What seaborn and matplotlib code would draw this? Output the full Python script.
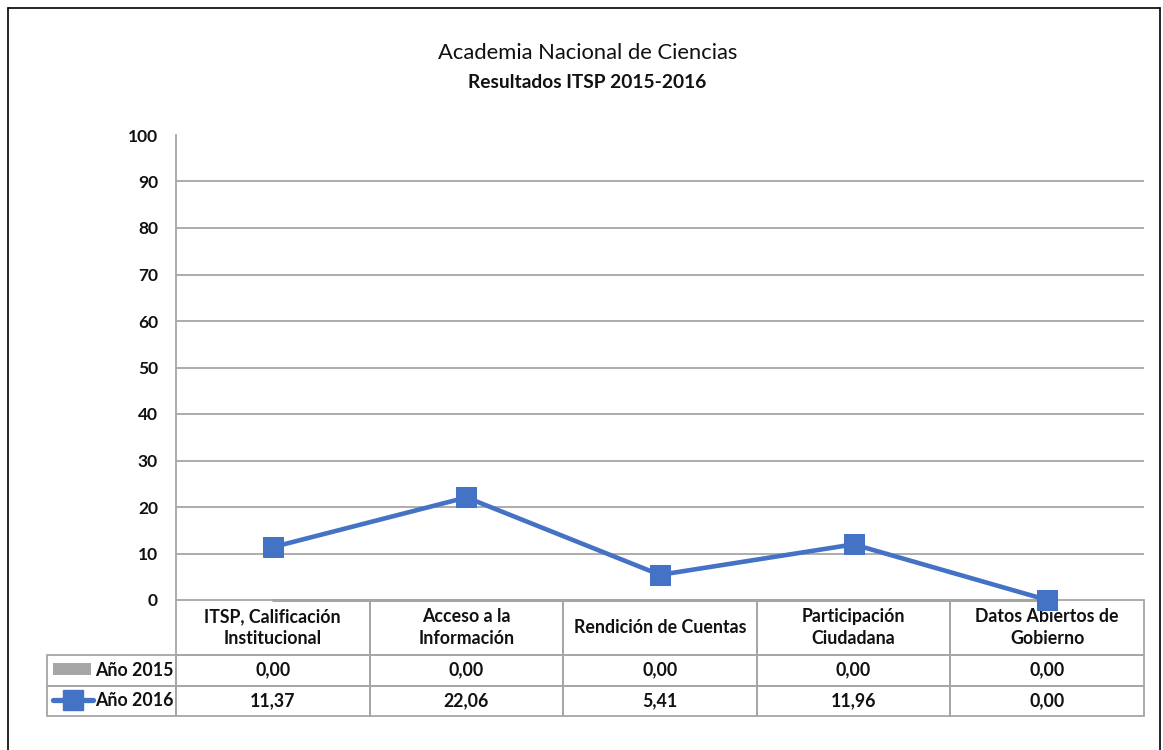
import matplotlib
matplotlib.use("Agg")
import matplotlib.pyplot as plt
import seaborn as sns
import pandas as pd
from matplotlib.lines import Line2D

categories = ["ITSP, Calificación\nInstitucional", "Acceso a la\nInformación",
              "Rendición de Cuentas", "Participación\nCiudadana", "Datos Abiertos de\nGobierno"]
series_names = ["Año 2015", "Año 2016"]
values_2015 = [0.00, 0.00, 0.00, 0.00, 0.00]
values_2016 = [11.37, 22.06, 5.41, 11.96, 0.00]
yticks = [0, 10, 20, 30, 40, 50, 60, 70, 80, 90, 100]
title = "Academia Nacional de Ciencias"
subtitle = "Resultados ITSP 2015-2016"

sns.set_theme(style="white")
plt.rcParams["font.family"] = ["Lato", "DejaVu Sans"]

W, H = 1163, 750
fig = plt.figure(figsize=(W / 100, H / 100), dpi=100)

def fx(px):
    return px / W

def fy(py):
    return 1 - py / H

ax_l, ax_r, ax_t, ax_b = 176, 1144, 135, 600
ax = fig.add_axes([fx(ax_l), fy(ax_b), fx(ax_r - ax_l), (ax_b - ax_t) / H])

BLUE = "#4472C4"
GRAY = "#A5A5A5"
GRID = "#A6A6A6"
TXT = "#111111"

df = pd.DataFrame({
    "x": list(range(len(categories))) * 2,
    "value": values_2015 + values_2016,
    "series": [series_names[0]] * len(categories) + [series_names[1]] * len(categories),
})

sns.lineplot(data=df[df.series == series_names[0]], x="x", y="value", ax=ax,
             color=GRAY, linewidth=2.2, legend=False, clip_on=False, zorder=1)
sns.lineplot(data=df[df.series == series_names[1]], x="x", y="value", ax=ax,
             color=BLUE, linewidth=3.3, marker="s", markersize=14,
             markeredgecolor=BLUE, legend=False, clip_on=False, zorder=5)

ax.set_xlim(-0.5, len(categories) - 0.5)
ax.set_ylim(0, 100)
ax.set_yticks(yticks)
ax.set_yticklabels([str(t) for t in yticks], fontsize=12.5, fontweight="bold", color=TXT)
ax.tick_params(axis="y", length=0, pad=13)
ax.set_xticks([])
ax.set_xlabel("")
ax.set_ylabel("")
for t in yticks[1:-1]:
    ax.axhline(t, color=GRID, linewidth=1.3, zorder=0)
for s in ["top", "right", "bottom"]:
    ax.spines[s].set_visible(False)
ax.spines["left"].set_color(GRID)
ax.spines["left"].set_linewidth(1.3)

# data table
rows = [[series_names[0]] + [f"{v:.2f}".replace(".", ",") for v in values_2015],
        [series_names[1]] + [f"{v:.2f}".replace(".", ",") for v in values_2016]]
header = [""] + categories
tab_l, tab_r = 47, 1144
col_px = [129] + [(ax_r - ax_l) / 5] * 5
tot = sum(col_px)
colw = [c / tot for c in col_px]
tab_top, tab_bot = 600, 716
bbox = [(tab_l - ax_l) / (ax_r - ax_l), -(tab_bot - ax_b) / (ax_b - ax_t),
        (tab_r - tab_l) / (ax_r - ax_l), (tab_bot - tab_top) / (ax_b - ax_t)]
tbl = ax.table(cellText=rows, colLabels=header, colWidths=colw, cellLoc="center",
               bbox=bbox)
tbl.auto_set_font_size(False)
row_h = [55, 30.5, 30.5]
for (r, c), cell in tbl.get_celld().items():
    cell.set_height(row_h[r] / 116)
    cell.set_edgecolor(GRID)
    cell.set_linewidth(1.3)
    cell.set_facecolor("none")
    txt = cell.get_text()
    txt.set_fontsize(12.8)
    txt.set_fontweight("bold")
    txt.set_color(TXT)
    txt.set_linespacing(1.3)
    if r == 0 and c == 0:
        cell.visible_edges = ""
    if r > 0 and c == 0:
        cell.PAD = 0.02
        txt.set_ha("right")
        cell._loc = "right"

# legend keys in row label cells
fig.add_artist(Line2D([fx(53), fx(91)], [fy(669), fy(669)], color=GRAY, linewidth=8.6,
                      solid_capstyle="butt"))
fig.add_artist(Line2D([fx(53), fx(93)], [fy(700), fy(700)], color=BLUE, linewidth=3.8))
fig.add_artist(Line2D([fx(72.5)], [fy(700)], color=BLUE, marker="s", markersize=14,
                      linestyle="none"))

fig.text(fx(588), fy(53), title, ha="center", va="center", fontsize=15.8,
         color=TXT)
fig.text(fx(587), fy(83), subtitle, ha="center", va="center", fontsize=13.8,
         fontweight="bold", color=TXT)

# outer chart frame
for xs, ys in [([8, 8], [8, 760]), ([8, 1160], [8, 8]), ([1160, 1160], [8, 760])]:
    fig.add_artist(Line2D([fx(x) for x in xs], [fy(y) for y in ys], color="black",
                          linewidth=1.2))

fig.savefig("out.png", dpi=100, facecolor="white")
